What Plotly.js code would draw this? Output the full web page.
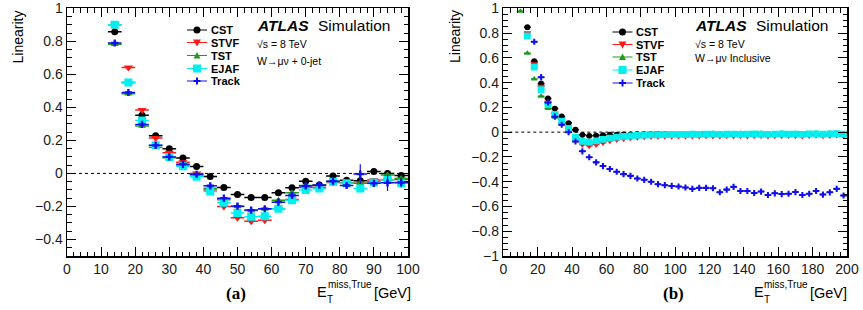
<!DOCTYPE html>
<html>
<head>
<meta charset="utf-8">
<script src="https://cdn.plot.ly/plotly-3.0.1.min.js"></script>
<style>
  html, body { margin: 0; padding: 0; background: #fff; }
  #chart { width: 863px; height: 310px; }
</style>
</head>
<body>
<div id="chart"></div>
<script>
// ---------- data: panel (a), W -> mu nu + 0-jet ----------
const xA = [14, 18, 22, 26, 30, 34, 38, 42, 46, 50, 54, 58, 62, 66, 70, 74, 78, 82, 86, 90, 94, 98];
const cstA   = [0.858, 0.55, 0.352, 0.228, 0.149, 0.093, 0.042, -0.018, -0.085, -0.127, -0.145, -0.145, -0.117, -0.087, -0.047, -0.07, -0.016, -0.041, -0.045, 0.012, 0.0, -0.012];
const stvfA  = [0.90, 0.642, 0.384, 0.214, 0.125, 0.067, 0.0, -0.10, -0.20, -0.269, -0.289, -0.283, -0.214, -0.158, -0.085, -0.083, -0.055, -0.055, -0.06, -0.04, -0.04, -0.036];
const tstA   = [0.783, 0.482, 0.287, 0.158, 0.095, 0.05, -0.01, -0.09, -0.16, -0.20, -0.225, -0.215, -0.162, -0.117, -0.073, -0.071, -0.047, -0.06, -0.06, -0.05, -0.01, -0.03];
const ejafA  = [0.90, 0.55, 0.321, 0.17, 0.10, 0.044, -0.02, -0.11, -0.178, -0.239, -0.263, -0.259, -0.214, -0.162, -0.101, -0.091, -0.05, -0.06, -0.091, -0.055, -0.04, -0.06];
const trackA = [0.79, 0.49, 0.297, 0.17, 0.10, 0.055, -0.005, -0.075, -0.15, -0.198, -0.222, -0.214, -0.174, -0.133, -0.076, -0.071, -0.047, -0.073, -0.004, -0.06, -0.057, -0.055];
const trackErrA = [0.008, 0.008, 0.008, 0.008, 0.008, 0.008, 0.008, 0.008, 0.008, 0.008, 0.008, 0.008, 0.01, 0.01, 0.012, 0.012, 0.015, 0.02, 0.06, 0.02, 0.05, 0.03];

// ---------- data: panel (b), W -> mu nu inclusive ----------
const xB = [10, 14, 18, 22, 26, 30, 34, 38, 42, 46, 50, 54, 58, 62, 66, 70, 74, 78, 82, 86, 90, 94, 98, 102,
            106, 110, 114, 118, 122, 126, 130, 134, 138, 142, 146, 150, 154, 158, 162, 166, 170, 174, 178, 182, 186, 190, 194, 198];
const cstB = [null, 0.848, 0.572, 0.393, 0.271, 0.19, 0.127, 0.073, 0.019, -0.022, -0.03, -0.028, -0.024, -0.02, -0.02, -0.018,
              -0.018, -0.016, -0.017, -0.016, -0.015, -0.016, -0.015, -0.014, -0.015, -0.016, -0.014, -0.015, -0.013, -0.015, -0.014, -0.016,
              -0.013, -0.014, -0.015, -0.013, -0.016, -0.014, -0.012, -0.015, -0.013, -0.014, -0.016, -0.012, -0.014, -0.013, -0.011, -0.015];
const stvfB = [null, 0.80, 0.55, 0.37, 0.24, 0.15, 0.10, 0.03, -0.05, -0.10, -0.11, -0.10, -0.085, -0.07, -0.06, -0.052,
               -0.046, -0.042, -0.038, -0.036, -0.035, -0.034, -0.033, -0.032, -0.033, -0.031, -0.032, -0.03, -0.032, -0.031, -0.03, -0.032,
               -0.029, -0.031, -0.03, -0.028, -0.031, -0.029, -0.03, -0.028, -0.03, -0.031, -0.027, -0.026, -0.03, -0.028, -0.024, -0.03];
const tstB = [0.976, 0.637, 0.43, 0.29, 0.19, 0.12, 0.07, 0.01, -0.05, -0.08, -0.085, -0.075, -0.062, -0.05, -0.042, -0.036,
              -0.032, -0.028, -0.026, -0.024, -0.023, -0.022, -0.021, -0.02, -0.021, -0.02, -0.019, -0.02, -0.018, -0.02, -0.019, -0.018,
              -0.02, -0.019, -0.017, -0.019, -0.02, -0.018, -0.017, -0.019, -0.018, -0.02, -0.016, -0.017, -0.019, -0.016, -0.015, -0.018];
const ejafB = [null, 0.777, 0.525, 0.344, 0.225, 0.14, 0.088, 0.03, -0.04, -0.075, -0.08, -0.07, -0.058, -0.048, -0.04, -0.034,
               -0.03, -0.026, -0.024, -0.022, -0.021, -0.02, -0.019, -0.018, -0.019, -0.017, -0.018, -0.017, -0.016, -0.018, -0.017, -0.016,
               -0.018, -0.016, -0.015, -0.017, -0.018, -0.016, -0.015, -0.017, -0.016, -0.018, -0.014, -0.015, -0.017, -0.014, -0.013, -0.016];
const trackB = [null, null, 0.73, 0.444, 0.24, 0.125, 0.06, 0.0, -0.076, -0.155, -0.203, -0.244, -0.274, -0.298, -0.32, -0.339,
                -0.353, -0.374, -0.385, -0.40, -0.42, -0.428, -0.434, -0.439, -0.447, -0.458, -0.45, -0.45, -0.453, -0.485, -0.464, -0.442,
                -0.475, -0.475, -0.491, -0.48, -0.507, -0.494, -0.5, -0.497, -0.484, -0.507, -0.497, -0.475, -0.504, -0.486, -0.458, -0.512];

const binHalfWidth = 2;
const seriesNames = ['CST', 'STVF', 'TST', 'EJAF', 'Track'];

// ---------- styling ----------
const W = 863, H = 310;
const colors  = { CST: '#000000', STVF: '#ff1a1a', TST: '#1f9a1f', EJAF: '#00f0f0', Track: '#1010ee' };
const symbols = { CST: 'circle', STVF: 'triangle-down', TST: 'triangle-up', EJAF: 'square', Track: 'cross' };
const sizes   = { CST: 7, STVF: 8, TST: 7, EJAF: 8, Track: 6 };
const FONT = 'Liberation Sans, Arial, Helvetica, sans-serif';

function series(name, x, y, xa, ya, scale, errY) {
  const t = {
    type: 'scatter', mode: 'markers', name: name, x: x, y: y, xaxis: xa, yaxis: ya,
    showlegend: false, cliponaxis: true,
    marker: { symbol: symbols[name], size: sizes[name] * scale, color: colors[name], line: { width: 0 } },
    error_x: { type: 'constant', value: binHalfWidth, thickness: 1.5, width: 0, color: colors[name] }
  };
  if (errY) t.error_y = { type: 'data', array: errY, thickness: 1.2, width: 0, color: colors[name] };
  return t;
}

const data = [
  series('CST', xA, cstA, 'x', 'y', 1),
  series('STVF', xA, stvfA, 'x', 'y', 1),
  series('TST', xA, tstA, 'x', 'y', 1),
  series('EJAF', xA, ejafA, 'x', 'y', 1),
  series('Track', xA, trackA, 'x', 'y', 1, trackErrA),
  series('CST', xB, cstB, 'x2', 'y2', 0.85),
  series('STVF', xB, stvfB, 'x2', 'y2', 0.85),
  series('TST', xB, tstB, 'x2', 'y2', 0.85),
  series('EJAF', xB, ejafB, 'x2', 'y2', 0.85),
  series('Track', xB, trackB, 'x2', 'y2', 0.85)
];

// ---------- axes ----------
function axis(domain, range, dtick, minorDtick, anchor) {
  return {
    domain: domain, range: range, anchor: anchor, autorange: false,
    tick0: 0, dtick: dtick,
    showline: true, linecolor: '#000', linewidth: 1.5, mirror: 'ticks',
    ticks: 'inside', ticklen: 9, tickwidth: 1, tickcolor: '#000',
    minor: { ticks: 'inside', ticklen: 4.5, tickwidth: 1, tickcolor: '#000', dtick: minorDtick, showgrid: false },
    showgrid: false, zeroline: false,
    tickfont: { family: FONT, size: 14, color: '#1a1a1a' },
    fixedrange: true
  };
}
const yDom = [54 / H, 301.7 / H];

// ---------- text and legend helpers ----------
const px = v => v / W;
const py = v => 1 - v / H;
function label(text, x, y, size, opts) {
  return Object.assign({
    text: text, xref: 'paper', yref: 'paper', x: px(x), y: py(y),
    xanchor: 'left', yanchor: 'middle', showarrow: false, borderpad: 0,
    font: { family: FONT, size: size, color: '#000' }
  }, opts || {});
}
function glyph(name, cx, cy) {
  const c = colors[name];
  const base = { xref: 'paper', yref: 'paper', xsizemode: 'pixel', ysizemode: 'pixel',
                 xanchor: px(cx), yanchor: py(cy), fillcolor: c, line: { width: 0 }, layer: 'above' };
  const out = [{ type: 'line', xref: 'paper', yref: 'paper', x0: px(cx - 10), x1: px(cx + 10),
                 y0: py(cy), y1: py(cy), line: { color: c, width: 1 }, layer: 'above' }];
  if (name === 'CST') out.push(Object.assign({ type: 'circle', x0: -3.5, x1: 3.5, y0: -3.5, y1: 3.5 }, base));
  if (name === 'STVF') out.push(Object.assign({ type: 'path', path: 'M-4,3 L4,3 L0,-4 Z' }, base));
  if (name === 'TST') out.push(Object.assign({ type: 'path', path: 'M-3.5,-3 L3.5,-3 L0,3.5 Z' }, base));
  if (name === 'EJAF') out.push(Object.assign({ type: 'rect', x0: -4, x1: 4, y0: -4, y1: 4 }, base));
  if (name === 'Track') {
    out.push(Object.assign({ type: 'rect', x0: -3.5, x1: 3.5, y0: -1, y1: 1 }, base));
    out.push(Object.assign({ type: 'rect', x0: -1, x1: 1, y0: -3.5, y1: 3.5 }, base));
  }
  return out;
}

const shapes = [
  { type: 'line', xref: 'x', yref: 'y', x0: 0, x1: 100, y0: 0, y1: 0, layer: 'below',
    line: { color: '#000', width: 1, dash: 'dot' } },
  { type: 'line', xref: 'x2', yref: 'y2', x0: 0, x1: 200, y0: 0, y1: 0, layer: 'below',
    line: { color: '#000', width: 1, dash: 'dot' } }
];
const annotations = [];

// legends
const legA = { gx: 197, tx: 210, rows: [30, 42.5, 55.5, 68.5, 81] };
const legB = { gx: 622.5, tx: 635, rows: [32, 44.5, 57, 70, 83] };
[legA, legB].forEach(L => {
  seriesNames.forEach((n, i) => {
    glyph(n, L.gx, L.rows[i]).forEach(s => shapes.push(s));
    annotations.push(label('<b>' + n + '</b>', L.tx, L.rows[i], 11));
  });
});

// ATLAS labels and process descriptions
[
  { x: 256, proc: 'W\u2192\u03bc\u03bd + 0-jet', py3: 61 },
  { x: 694, proc: 'W\u2192\u03bc\u03bd Inclusive', py3: 58 }
].forEach(p => {
  annotations.push(label('<b><i>ATLAS</i></b>', p.x, 25, 15.5));
  annotations.push(label('Simulation', p.x + 61, 25, 15.5));
  annotations.push(label('\u221as = 8 TeV', p.x, 44, 10.5));
  annotations.push(label(p.proc, p.x, p.py3, 10.5));
});

// axis titles
[17.5, 455].forEach(x => {
  annotations.push(label('Linearity', x, 37, 14, { xanchor: 'center', textangle: -90 }));
});
[{ e: 316, tag: '(a)', tagx: 236 }, { e: 752.5, tag: '(b)', tagx: 673 }].forEach(t => {
  annotations.push(label('E', t.e, 292, 14.5));
  annotations.push(label('T', t.e + 10, 299.5, 10));
  annotations.push(label('miss,True', t.e + 10.5, 284.5, 10));
  annotations.push(label('[GeV]', t.e + 56.5, 293, 14.5));
  annotations.push(label('<b>' + t.tag + '</b>', t.tagx, 293, 17,
    { xanchor: 'center', font: { family: 'Liberation Serif, Times New Roman, serif', size: 17, color: '#000' } }));
});

const layout = {
  width: W, height: H,
  margin: { l: 0, r: 0, t: 0, b: 0, pad: 0 },
  paper_bgcolor: '#fff', plot_bgcolor: '#fff',
  showlegend: false,
  xaxis:  axis([67 / W, 408 / W], [0, 100], 10, 2, 'y'),
  yaxis:  axis(yDom, [-0.5, 1], 0.2, 0.05, 'x'),
  xaxis2: axis([503.3 / W, 847 / W], [0, 200], 20, 4, 'y2'),
  yaxis2: axis(yDom, [-1, 1], 0.2, 0.05, 'x2'),
  shapes: shapes,
  annotations: annotations
};

Plotly.newPlot('chart', data, layout, { staticPlot: true, displayModeBar: false });
</script>
</body>
</html>
